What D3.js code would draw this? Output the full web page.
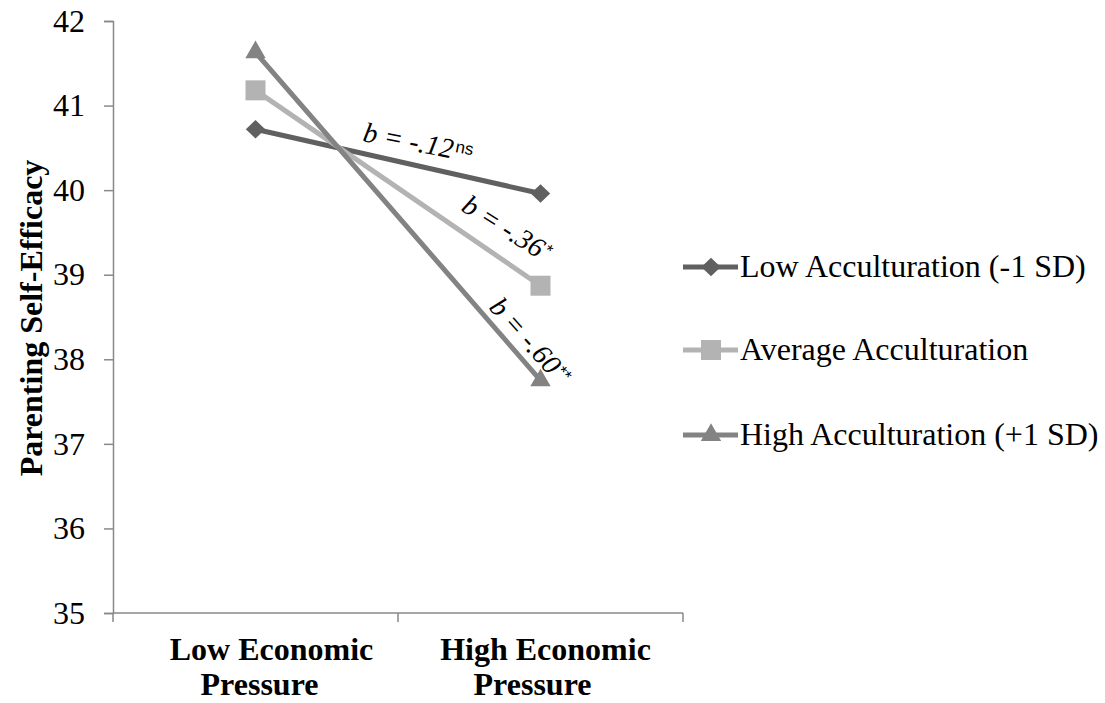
<!DOCTYPE html>
<html>
<head>
<meta charset="utf-8">
<script src="https://cdn.jsdelivr.net/npm/d3@7"></script>
<style>
  body { margin: 0; background: #fff; }
</style>
</head>
<body>
<div id="chart"></div>
<script>
'use strict'

// categories and values
const categories = ['Low Economic Pressure', 'High Economic Pressure']
const categoryLines = [['Low Economic', 'Pressure'], ['High Economic', 'Pressure']]
const seriesNames = ['Low Acculturation (-1 SD)', 'Average Acculturation', 'High Acculturation (+1 SD)']
const lowAcc = [40.72, 39.96]
const avgAcc = [41.18, 38.87]
const highAcc = [41.63, 37.75]
const yTicks = [35, 36, 37, 38, 39, 40, 41, 42]
const slopeLabels = [
  { b: 'b', txt: ' = -.12', sup: 'ns' },
  { b: 'b', txt: ' = -.36', sup: '*' },
  { b: 'b', txt: ' = -.60', sup: '**' }
]

const width = 1105
const height = 703
const plot = { left: 113, right: 683, top: 21, bottom: 613 }
const serif = 'Liberation Serif, Times New Roman, serif'
const axisColor = '#898989'

const svg = d3.select('#chart').append('svg')
  .attr('width', width)
  .attr('height', height)
  .attr('font-family', serif)

const x = d3.scaleBand()
  .domain(categories)
  .range([plot.left, plot.right])

const y = d3.scaleLinear()
  .domain([35, 42])
  .range([plot.bottom, plot.top])

// y axis
const yAxis = svg.append('g')
  .attr('transform', 'translate(' + plot.left + ',0)')
  .call(d3.axisLeft(y).tickValues(yTicks).tickSize(9).tickPadding(19).tickFormat(d3.format('d')))
  .attr('font-family', serif)
  .attr('font-size', 32)
yAxis.select('.domain').attr('stroke', axisColor).attr('stroke-width', 1.5)
yAxis.selectAll('.tick line').attr('stroke', axisColor).attr('stroke-width', 1.5)
yAxis.selectAll('.tick text').attr('fill', '#000')

// x axis: ticks at category boundaries
const xAxisG = svg.append('g')
xAxisG.append('line')
  .attr('x1', plot.left).attr('x2', plot.right)
  .attr('y1', plot.bottom).attr('y2', plot.bottom)
  .attr('stroke', axisColor).attr('stroke-width', 1.5)
const bounds = categories.map(c => x(c)).concat([x(categories[categories.length - 1]) + x.bandwidth()])
xAxisG.selectAll('line.xt')
  .data(bounds)
  .join('line')
  .attr('class', 'xt')
  .attr('x1', d => d).attr('x2', d => d)
  .attr('y1', plot.bottom).attr('y2', plot.bottom + 9)
  .attr('stroke', axisColor).attr('stroke-width', 1.5)

// Excel wraps the labels slightly off-centre
const labelShift = [[16, 4], [5, -8]]
xAxisG.selectAll('text.cat')
  .data(categories)
  .join('text')
  .attr('class', 'cat')
  .attr('text-anchor', 'middle')
  .attr('font-weight', 'bold')
  .attr('font-size', 32)
  .each(function (d, i) {
    const cx = x(d) + x.bandwidth() / 2
    d3.select(this).selectAll('tspan')
      .data(categoryLines[i])
      .join('tspan')
      .attr('x', (l, j) => cx + labelShift[i][j])
      .attr('y', (l, j) => 660 + j * 35)
      .text(l => l)
  })

// y axis title
svg.append('text')
  .attr('transform', 'translate(42,' + 318 + ') rotate(-90)')
  .attr('text-anchor', 'middle')
  .attr('font-weight', 'bold')
  .attr('font-size', 32)
  .text('Parenting Self-Efficacy')

const diamond = {
  draw (ctx, size) {
    const r = Math.sqrt(size) / 2
    ctx.moveTo(0, -r)
    ctx.lineTo(r * 1.05, 0)
    ctx.lineTo(0, r)
    ctx.lineTo(-r * 1.05, 0)
    ctx.closePath()
  }
}

const series = [
  { name: seriesNames[0], values: lowAcc, color: '#606060', symbol: diamond, size: 340 },
  { name: seriesNames[1], values: avgAcc, color: '#b3b3b3', symbol: d3.symbolSquare, size: 400 },
  { name: seriesNames[2], values: highAcc, color: '#838383', symbol: d3.symbolTriangle, size: 180 }
]

const line = d3.line()
  .x((d, i) => x(categories[i]) + x.bandwidth() / 2)
  .y(d => y(d))

series.forEach(s => {
  svg.append('path')
    .datum(s.values)
    .attr('fill', 'none')
    .attr('stroke', s.color)
    .attr('stroke-width', 5)
    .attr('d', line)
})
series.forEach(s => {
  svg.selectAll(null)
    .data(s.values)
    .join('path')
    .attr('transform', (d, i) => 'translate(' + (x(categories[i]) + x.bandwidth() / 2) + ',' + y(d) + ')')
    .attr('d', d3.symbol().type(s.symbol).size(s.size))
    .attr('fill', s.color)
})

// slope annotations
const annoPos = [
  { x: 362, y: 141, rot: 11 },
  { x: 460, y: 210, rot: 32 },
  { x: 488, y: 308, rot: 48 }
]
slopeLabels.forEach((l, i) => {
  const p = annoPos[i]
  const t = svg.append('text')
    .attr('transform', 'translate(' + p.x + ',' + p.y + ') rotate(' + p.rot + ')')
    .attr('font-style', 'italic')
    .attr('font-size', 28)
  t.append('tspan').text(l.b)
  t.append('tspan').text(l.txt)
  t.append('tspan')
    .attr('dx', 2)
    .attr('dy', -7)
    .attr('font-style', 'normal')
    .attr('font-size', 17)
    .attr('font-family', 'Liberation Sans, Arial, sans-serif')
    .text(l.sup)
})

// legend
const legendRows = [267, 350, 435]
const legend = svg.append('g')
series.forEach((s, i) => {
  const g = legend.append('g').attr('transform', 'translate(0,' + legendRows[i] + ')')
  g.append('line')
    .attr('x1', 683).attr('x2', 738)
    .attr('stroke', s.color).attr('stroke-width', 5)
  g.append('path')
    .attr('transform', 'translate(711,0)')
    .attr('d', d3.symbol().type(s.symbol).size(s.size))
    .attr('fill', s.color)
  g.append('text')
    .attr('x', 740)
    .attr('y', 10)
    .attr('font-size', 32)
    .text(s.name)
})
</script>
</body>
</html>
